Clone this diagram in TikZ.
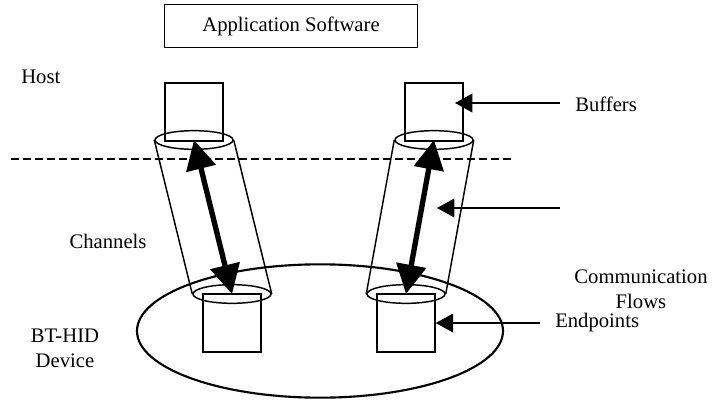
\documentclass[tikz,border=0pt]{standalone}
\usepackage{fontspec}
\setmainfont{Liberation Serif}
\usepackage{tikz}
\usetikzlibrary{shapes.geometric,arrows.meta}

\begin{document}
\begin{tikzpicture}[
    x=0.75pt, y=-0.75pt,
    box/.style={draw, line width=1.1pt, inner sep=0pt, minimum width=43.5pt, minimum height=43.5pt},
    rim/.style={draw, ellipse, line width=1.1pt, inner sep=0pt, minimum width=58.5pt, minimum height=14pt},
    label/.style={font=\fontsize{15.5}{18.5}\selectfont, inner sep=0pt},
    flow/.style={{Triangle[length=22pt,width=22pt]}-{Triangle[length=22pt,width=22pt]}, line width=4pt},
    pointer/.style={-{Triangle[length=13pt,width=14pt]}, line width=1.1pt}
]
\useasboundingbox (0,0) rectangle (712,399);

% Host side
\node[draw, line width=1.2pt, minimum width=190pt, minimum height=32pt, label] (app) at (291,26) {Application Software};
\node[label, anchor=west] (host) at (21,77) {Host};
\node[box] (bufL) at (194,112) {};
\node[box] (bufR) at (434,112) {};
\draw[dashed, line width=1.1pt, dash pattern=on 6pt off 3pt] (11,159) -- (512,159);

% Device side
\node[draw, ellipse, line width=1.6pt, inner sep=0pt, minimum width=274.5pt, minimum height=100pt] (dev) at (320,331) {};
\node[box] (epL) at (232,323) {};
\node[box] (epR) at (406,323) {};
\node[label, align=center] (btdev) at (65,348) {BT-HID\\Device};

% Channels (tubes)
\node[rim] (topL) at (194,140) {};
\node[rim] (topR) at (434,140) {};
\node[rim] (botL) at (232,294) {};
\node[rim] (botR) at (406,294) {};
\draw[line width=1.1pt] (topL.west) -- (botL.west);
\draw[line width=1.1pt] (topL.east) -- (botL.east);
\draw[line width=1.1pt] (topR.west) -- (botR.west);
\draw[line width=1.1pt] (topR.east) -- (botR.east);
\node[label] (chan) at (108,241) {Channels};

% Flows
\draw[flow] (topL.center) -- (botL.center);
\draw[flow] (topR.center) -- (botR.center);

% Labels with pointers
\node[label, anchor=west] (buffers) at (575,104) {Buffers};
\node[label, align=center] (comm) at (641,289) {Communication\\Flows};
\node[label, anchor=west] (endpts) at (555,323) {Endpoints};
\coordinate (bufTail) at (560,103);
\coordinate (bufTip) at (455,103);
\coordinate (flowTail) at (560,208);
\coordinate (flowTip) at (437,208);
\coordinate (epTail) at (540,323);
\draw[pointer] (bufTail) -- (bufTip);
\draw[pointer] (flowTail) -- (flowTip);
\draw[pointer] (epTail) -- (epR.east);

\end{tikzpicture}
\end{document}
